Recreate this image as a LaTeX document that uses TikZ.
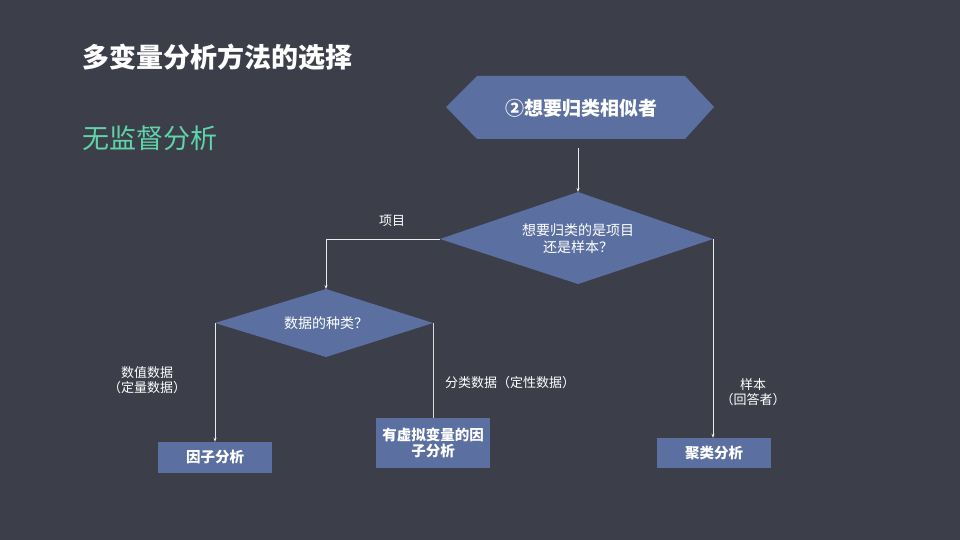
\documentclass[tikz,border=0pt]{standalone}
\usepackage{fontspec}
\setmainfont{Noto Sans CJK SC}
\usetikzlibrary{shapes.geometric,arrows.meta}
\definecolor{bg}{RGB}{60,63,74}
\definecolor{boxfill}{RGB}{91,112,160}
\definecolor{greentxt}{RGB}{95,212,168}
\tikzset{
  conn/.style={draw=white!92!black, line width=0.9pt, -{Stealth[length=4pt,width=3pt]}},
  plain/.style={draw=white!85!black, line width=0.9pt},
  lbl/.style={text=white, font=\fontsize{13}{15}\selectfont, align=center, inner sep=0pt},
  dtext/.style={text=white, font=\fontsize{14}{17}\selectfont, align=center},
  boxnode/.style={fill=boxfill, text=white, font=\bfseries\fontsize{14.5}{16}\selectfont, align=center, inner sep=0pt},
}
\begin{document}
\begin{tikzpicture}[x=1pt,y=-1pt]
\fill[bg] (0,0) rectangle (960,540);
\useasboundingbox (0,0) rectangle (960,540);

% titles
\node[anchor=west, text=white, font=\bfseries\fontsize{27}{30}\selectfont, inner sep=0pt] (title) at (82,57) {多变量分析方法的选择};
\node[anchor=west, text=greentxt, font=\fontsize{27}{30}\selectfont, inner sep=0pt] (sub) at (82,138) {无监督分析};

% hexagon
\fill[boxfill] (446,107) -- (477,76) -- (685,76) -- (714,107) -- (685,139) -- (477,139) -- cycle;
\node[text=white, font=\bfseries\fontsize{19}{20}\selectfont, inner sep=0pt] (hex) at (581,108) {②想要归类相似者};
\coordinate (hexb) at (578,148);

% diamond 1
\fill[boxfill] (578,192) -- (713,239) -- (578,284) -- (440,239) -- cycle;
\node[dtext] (d1) at (578,239) {想要归类的是项目\\还是样本？};
\coordinate (d1t) at (578,192);
\coordinate (d1l) at (440,239);
\coordinate (d1r) at (713,239);

% diamond 2
\fill[boxfill] (326,289) -- (433,323) -- (326,357) -- (215,323) -- cycle;
\node[dtext] (d2) at (326,323) {数据的种类？};
\coordinate (d2t) at (326,289);
\coordinate (d2l) at (215,323);
\coordinate (d2r) at (433,323);

% boxes
\node[boxnode, minimum width=114pt, minimum height=31pt] (b1) at (215,457.5) {因子分析};
\node[boxnode, minimum width=114pt, minimum height=50pt] (b2) at (433,443) {有虚拟变量的因\\子分析};
\node[boxnode, minimum width=114pt, minimum height=30pt] (b3) at (714,453) {聚类分析};

% connectors
\draw[conn] (hexb) -- (d1t);
\draw[conn] (d1l) -- (326,239) -- (d2t);
\draw[conn] (d2l) -- (b1.north -| d2l);
\draw[plain] (d2r) -- (b2.north -| d2r);
\draw[conn] (d1r) -- (b3.north -| d1r);

% labels
\node[lbl] (l1) at (392,221) {项目};
\node[lbl] (l2) at (147,380) {数值数据\\（定量数据）};
\node[lbl] (l3) at (510,383) {分类数据（定性数据）};
\node[lbl] (l4) at (753,392) {样本\\（回答者）};
\end{tikzpicture}
\end{document}
